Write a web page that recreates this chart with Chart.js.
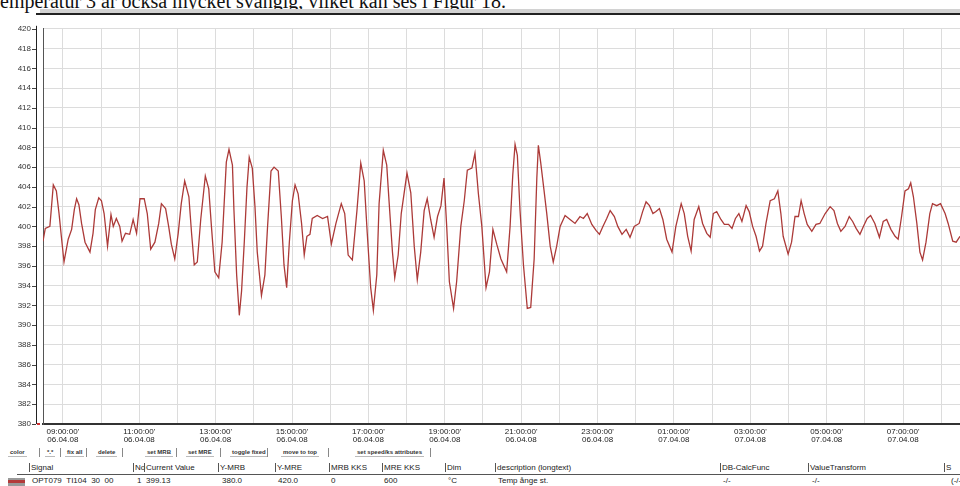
<!DOCTYPE html>
<html>
<head>
<meta charset="utf-8">
<script src="https://cdn.jsdelivr.net/npm/chart.js@4.4.0/dist/chart.umd.min.js"></script>
<style>
  body { margin: 0; width: 960px; height: 486px; overflow: hidden; background: #fff; position: relative; font-family: Arial, "Liberation Sans", sans-serif; color: #222; }
  #caption { position: absolute; left: 0; top: -9px; font: 20px "Liberation Serif", "DejaVu Serif", serif; line-height: 20px; white-space: nowrap; color: #111; }
  #toolbar { position: absolute; left: 40px; top: 9px; width: 920px; height: 4px; background: #d2d2d2; }
  #topline { position: absolute; left: 36px; top: 13px; width: 924px; height: 2px; background: #222; }
  #wrap { position: absolute; left: 0; top: 12px; width: 960px; height: 436px; }
  .btn { position: absolute; top: 449px; font: bold 6px Arial, sans-serif; color: #333; border-bottom: 1px solid #bbb; padding: 0 2px 1px; white-space: nowrap; }
  .sep { position: absolute; top: 448px; width: 1px; height: 9px; background: #888; }
  .hd, .cell { position: absolute; font: 8px Arial, sans-serif; white-space: nowrap; }
  .hd { top: 463px; border-left: 1px solid #555; padding-left: 1px; }
  .cell { top: 476px; }
  #headline { position: absolute; left: 17px; top: 474px; width: 943px; height: 1px; background: #555; }
  #swatch { position: absolute; left: 8px; top: 478px; width: 17px; height: 8px; background: linear-gradient(#999 0 30%, #b33a3a 30% 60%, #999 60%); }
</style>
</head>
<body>
<div id="caption">emperatur 3 är också mycket svängig, vilket kan ses i Figur 18.</div>
<div id="toolbar"></div>
<div id="topline"></div>
<div id="wrap"><canvas id="trend" width="960" height="436"></canvas></div>

<span class="btn" style="left:8px">color</span><span class="sep" style="left:39px"></span>
<span class="btn" style="left:45px">*.*</span><span class="sep" style="left:60px"></span>
<span class="btn" style="left:65px">fix all</span><span class="sep" style="left:86px"></span>
<span class="btn" style="left:96px">delete</span><span class="sep" style="left:122px"></span>
<span class="btn" style="left:145px">set MRB</span><span class="sep" style="left:176px"></span>
<span class="btn" style="left:186px">set MRE</span><span class="sep" style="left:220px"></span>
<span class="btn" style="left:230px">toggle fixed</span><span class="sep" style="left:267px"></span>
<span class="btn" style="left:281px">move to top</span><span class="sep" style="left:328px"></span>
<span class="btn" style="left:355px">set speed/ks attributes</span><span class="sep" style="left:430px"></span>

<span class="hd" style="left:29px">Signal</span>
<span class="hd" style="left:133px">No</span>
<span class="hd" style="left:144px">Current Value</span>
<span class="hd" style="left:218px">Y-MRB</span>
<span class="hd" style="left:275px">Y-MRE</span>
<span class="hd" style="left:329px">MRB KKS</span>
<span class="hd" style="left:382px">MRE KKS</span>
<span class="hd" style="left:445px">Dim</span>
<span class="hd" style="left:495px">description (longtext)</span>
<span class="hd" style="left:720px">DB-CalcFunc</span>
<span class="hd" style="left:808px">ValueTransform</span>
<span class="hd" style="left:944px">S</span>
<div id="headline"></div>

<div id="swatch"></div>
<span class="cell" style="left:32px">OPT079 &nbsp;TI104 &nbsp;30 &nbsp;00</span>
<span class="cell" style="left:137px">1</span>
<span class="cell" style="left:146px">399.13</span>
<span class="cell" style="left:222px">380.0</span>
<span class="cell" style="left:278px">420.0</span>
<span class="cell" style="left:331px">0</span>
<span class="cell" style="left:384px">600</span>
<span class="cell" style="left:448px">°C</span>
<span class="cell" style="left:498px">Temp ånge st.</span>
<span class="cell" style="left:723px">-/-</span>
<span class="cell" style="left:812px">-/-</span>
<span class="cell" style="left:951px">(-/-</span>

<script>
// time in hours from 06.04.08 00:00, temperature in °C
const hours = [
  8.48, 8.54, 8.66, 8.75, 8.83, 8.90, 8.96, 9.03, 9.14, 9.23,
  9.30, 9.36, 9.42, 9.49, 9.58, 9.71, 9.79, 9.85, 9.94, 10.01,
  10.08, 10.17, 10.26, 10.32, 10.40, 10.49, 10.55, 10.64, 10.75, 10.84,
  10.93, 11.02, 11.13, 11.21, 11.30, 11.41, 11.51, 11.58, 11.69, 11.77,
  11.84, 11.93, 12.02, 12.10, 12.19, 12.30, 12.37, 12.44, 12.52, 12.61,
  12.73, 12.82, 12.89, 12.98, 13.08, 13.17, 13.28, 13.35, 13.44, 13.48,
  13.55, 13.62, 13.68, 13.75, 13.82, 13.88, 13.96, 14.03, 14.09, 14.20,
  14.29, 14.36, 14.45, 14.53, 14.64, 14.72, 14.79, 14.86, 14.93, 15.01,
  15.08, 15.16, 15.25, 15.32, 15.39, 15.47, 15.53, 15.66, 15.80, 15.93,
  16.03, 16.15, 16.29, 16.38, 16.47, 16.58, 16.70, 16.80, 16.89, 16.97,
  17.06, 17.13, 17.22, 17.28, 17.39, 17.48, 17.54, 17.63, 17.69, 17.78,
  17.86, 18.01, 18.11, 18.20, 18.28, 18.37, 18.46, 18.54, 18.63, 18.72,
  18.81, 18.90, 18.98, 19.05, 19.12, 19.23, 19.31, 19.42, 19.51, 19.59,
  19.71, 19.79, 19.88, 19.97, 20.08, 20.17, 20.26, 20.36, 20.47, 20.62,
  20.71, 20.78, 20.84, 20.90, 20.97, 21.06, 21.16, 21.25, 21.34, 21.41,
  21.45, 21.51, 21.60, 21.67, 21.76, 21.84, 21.93, 22.02, 22.15, 22.28,
  22.41, 22.54, 22.63, 22.73, 22.85, 22.96, 23.05, 23.14, 23.24, 23.33,
  23.44, 23.53, 23.64, 23.75, 23.85, 23.96, 24.09, 24.18, 24.27, 24.36,
  24.45, 24.53, 24.62, 24.71, 24.81, 24.95, 25.05, 25.19, 25.27, 25.36,
  25.45, 25.53, 25.65, 25.75, 25.86, 25.95, 26.03, 26.12, 26.23, 26.32,
  26.43, 26.52, 26.61, 26.70, 26.78, 26.89, 26.97, 27.06, 27.15, 27.24,
  27.32, 27.41, 27.52, 27.63, 27.72, 27.80, 27.86, 27.99, 28.08, 28.17,
  28.26, 28.33, 28.41, 28.49, 28.61, 28.72, 28.82, 28.96, 29.09, 29.19,
  29.28, 29.37, 29.48, 29.59, 29.68, 29.77, 29.87, 29.96, 30.06, 30.15,
  30.26, 30.38, 30.48, 30.57, 30.68, 30.79, 30.87, 30.96, 31.05, 31.14,
  31.20, 31.27, 31.36, 31.44, 31.51, 31.60, 31.70, 31.77, 31.88, 31.98,
  32.10, 32.18, 32.30, 32.39, 32.49
];
const temps = [
  398.5, 399.8, 400.0, 404.2, 403.6, 401.3, 399.0, 396.4, 398.7, 399.7,
  401.7, 402.8, 402.2, 400.3, 398.4, 397.4, 399.3, 401.7, 402.9, 402.6,
  401.3, 398.0, 401.2, 400.0, 400.8, 400.0, 398.5, 399.3, 399.2, 400.7,
  399.3, 402.8, 402.8, 401.3, 397.7, 398.4, 400.3, 402.3, 401.8, 400.0,
  398.2, 396.7, 399.3, 402.3, 404.6, 403.0, 399.3, 396.1, 396.4, 400.7,
  405.1, 403.8, 400.0, 395.4, 394.8, 398.4, 406.5, 407.8, 406.2, 401.6,
  395.1, 391.0, 393.5, 398.4, 403.9, 407.0, 405.9, 402.0, 397.4, 393.0,
  395.1, 400.0, 405.6, 406.0, 405.6, 401.0, 396.1, 393.8, 398.4, 402.6,
  404.2, 403.3, 400.3, 397.1, 399.0, 399.2, 400.8, 401.1, 400.8, 401.0,
  398.2, 400.3, 402.3, 401.3, 397.1, 396.6, 401.6, 406.4, 404.6, 399.3,
  393.8, 391.5, 395.1, 402.3, 407.7, 406.2, 402.6, 397.4, 394.8, 397.1,
  401.3, 405.4, 403.4, 398.0, 394.6, 397.4, 401.6, 402.8, 400.7, 398.9,
  401.0, 402.1, 404.9, 400.0, 394.4, 391.7, 394.4, 400.0, 402.6, 405.7,
  405.9, 407.4, 403.3, 400.0, 393.8, 395.4, 399.7, 398.2, 396.7, 395.4,
  400.0, 405.2, 408.3, 407.2, 401.6, 396.1, 391.7, 391.8, 396.7, 404.9,
  408.2, 406.5, 403.6, 401.3, 398.0, 396.4, 398.0, 400.0, 401.1, 400.7,
  400.3, 401.0, 400.8, 401.3, 400.2, 399.6, 399.2, 400.0, 400.8, 401.6,
  401.0, 400.0, 399.2, 399.7, 398.9, 400.0, 400.3, 401.5, 402.5, 402.1,
  401.3, 401.5, 401.8, 400.7, 398.7, 397.4, 400.0, 402.3, 401.3, 399.0,
  397.5, 400.7, 402.0, 400.3, 399.3, 398.9, 401.3, 401.5, 400.7, 400.2,
  400.2, 399.8, 400.8, 401.3, 400.5, 402.1, 401.5, 400.0, 399.0, 397.5,
  398.0, 400.3, 402.6, 402.8, 403.6, 401.3, 399.0, 397.2, 398.4, 401.0,
  401.0, 402.6, 401.3, 400.2, 399.5, 400.2, 400.3, 401.3, 402.0, 401.6,
  400.3, 399.5, 400.0, 401.0, 400.5, 399.8, 399.2, 400.0, 400.8, 401.1,
  400.3, 398.9, 400.5, 400.7, 399.7, 399.0, 398.7, 401.0, 403.6, 403.8,
  404.4, 403.0, 400.3, 397.4, 396.6, 398.4, 401.3, 402.3, 402.1, 402.3,
  401.3, 400.3, 398.5, 398.4, 399.0
];
const dates = ['06.04.08', '07.04.08'];
const yMin = 380, yMax = 420;

function timeLabel(v) {
  if (v % 2 !== 1) return '';
  const h = v % 24;
  const hh = (h < 10 ? '0' : '') + h;
  return [hh + ":00:00'", dates[v >= 24 ? 1 : 0]];
}

// small tick dashes left of the axis and the outer frame line
const axisFrame = {
  id: 'axisFrame',
  afterDraw(chart) {
    const { ctx, chartArea } = chart;
    const y = chart.scales.y;
    ctx.save();
    ctx.strokeStyle = '#222';
    ctx.lineWidth = 1;
    ctx.beginPath();
    ctx.moveTo(36.5, chartArea.top - 3);
    ctx.lineTo(36.5, chartArea.bottom);
    ctx.stroke();
    ctx.strokeStyle = '#444';
    y.ticks.forEach(t => {
      const py = Math.round(y.getPixelForValue(t.value)) + 0.5;
      ctx.beginPath();
      ctx.moveTo(32, py);
      ctx.lineTo(36, py);
      ctx.stroke();
    });
    ctx.fillStyle = '#d03030';
    ctx.fillRect(37, chartArea.bottom - 1, 3, 2);
    ctx.restore();
  }
};

const ctx = document.getElementById('trend');
new Chart(ctx, {
  type: 'line',
  data: {
    datasets: [{
      label: 'OPT079 TI104 30 00',
      data: hours.map((h, i) => ({ x: h, y: temps[i] })),
      borderColor: '#ac3a38',
      borderWidth: 1.3,
      pointRadius: 0,
      tension: 0,
      fill: false
    }]
  },
  options: {
    responsive: false,
    animation: false,
    layout: { padding: { top: 4, right: 0, left: 0, bottom: 0 } },
    plugins: { legend: { display: false }, tooltip: { enabled: false } },
    scales: {
      x: {
        type: 'linear',
        min: 8.48,
        max: 32.49,
        afterFit: s => { s.height = 24; },
        grid: { color: '#dcdcdc', drawTicks: false },
        border: { color: '#333', width: 2 },
        ticks: {
          stepSize: 1,
          includeBounds: false,
          autoSkip: false,
          maxRotation: 0,
          padding: 4,
          color: '#222',
          font: { family: 'Arial', size: 8, lineHeight: 1 },
          callback: timeLabel
        }
      },
      y: {
        min: yMin,
        max: yMax,
        afterFit: s => { s.width = 43; },
        grid: { color: '#dcdcdc', drawTicks: false },
        border: { color: '#555', width: 1 },
        ticks: {
          stepSize: 2,
          padding: 12,
          color: '#333',
          font: { family: 'Arial', size: 8 }
        }
      }
    }
  },
  plugins: [axisFrame]
});
</script>
</body>
</html>
